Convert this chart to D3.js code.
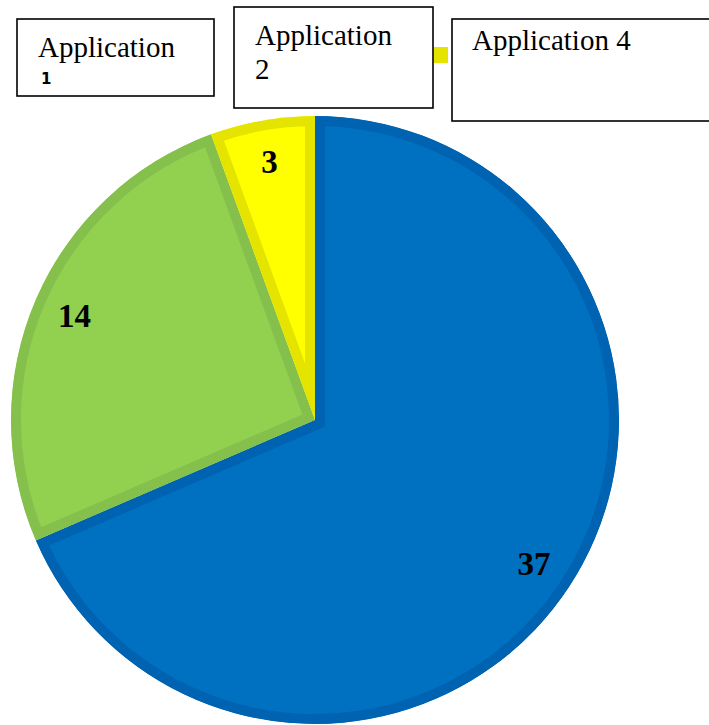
<!DOCTYPE html>
<html>
<head>
<meta charset="utf-8">
<title>Pie</title>
<style>
  body { margin: 0; background: #fff; }
  svg { display: block; }
</style>
</head>
<body>
<svg width="709" height="725"></svg>
<script src="https://d3js.org/d3.v7.min.js"></script>
<script>
// data
var categories = ["Application 1", "Application 2", "Application 4"];
var values = [37, 14, 3];
var fills = ["#0070C0", "#92D050", "#FFFF00"];
var borders = ["#0063B1", "#85C04D", "#E4E400"];

var svg = d3.select("svg");
var cx = 315, cy = 420, R = 304;

var pie = d3.pie().sort(null).value(d => d)
    .startAngle(0).endAngle(2 * Math.PI);
var arcs = pie(values);

var arc = d3.arc().innerRadius(0).outerRadius(R);
var labelArc = d3.arc().innerRadius(262).outerRadius(262);

var g = svg.append("g").attr("transform", "translate(" + cx + "," + cy + ")");
var defs = svg.append("defs");

arcs.forEach(function(a, i) {
  defs.append("clipPath").attr("id", "clip" + i)
    .append("path").attr("d", arc(a));
});

// slices, border kept on the inside through a clip
g.selectAll("path.slice")
  .data(arcs)
  .join("path")
  .attr("class", "slice")
  .attr("d", arc)
  .attr("fill", (d, i) => fills[i])
  .attr("stroke", (d, i) => borders[i])
  .attr("stroke-width", 20)
  .attr("stroke-linejoin", "miter")
  .attr("clip-path", (d, i) => "url(#clip" + i + ")");

g.selectAll("text.val")
  .data(arcs)
  .join("text")
  .attr("class", "val")
  .attr("x", d => labelArc.centroid(d)[0])
  .attr("y", d => labelArc.centroid(d)[1] + 11)
  .attr("text-anchor", "middle")
  .attr("font-family", "'Liberation Serif', 'Times New Roman', serif")
  .attr("font-weight", "bold")
  .attr("font-size", 33)
  .attr("fill", "#000")
  .text(d => d.data);

// legend boxes (as laid out in the picture)
var serif = "'Liberation Serif', 'Times New Roman', serif";

function box(x, y, w, h) {
  svg.append("rect").attr("x", x).attr("y", y).attr("width", w).attr("height", h)
    .attr("fill", "#fff").attr("stroke", "#000").attr("stroke-width", 1.6);
}

// Application 1
box(17, 19, 197, 77);
var parts0 = categories[0].split(" ");
svg.append("text").attr("x", 38).attr("y", 57)
  .attr("font-family", serif).attr("font-size", 29).text(parts0[0]);
svg.append("text").attr("x", 41).attr("y", 84)
  .attr("font-family", "'DejaVu Sans', sans-serif").attr("font-weight", "bold")
  .attr("font-size", 15).text(parts0[1]);

// Application 2
box(234, 7, 199, 101);
var parts1 = categories[1].split(" ");
svg.append("text").attr("x", 255).attr("y", 45)
  .attr("font-family", serif).attr("font-size", 29).text(parts1[0]);
svg.append("text").attr("x", 255).attr("y", 79)
  .attr("font-family", serif).attr("font-size", 29).text(parts1[1]);

// yellow key
svg.append("rect").attr("x", 434).attr("y", 47).attr("width", 14).attr("height", 16)
  .attr("fill", borders[2]);

// Application 4
box(452, 19, 270, 102);
svg.append("text").attr("x", 472).attr("y", 50)
  .attr("font-family", serif).attr("font-size", 29).text(categories[2]);
</script>
</body>
</html>
